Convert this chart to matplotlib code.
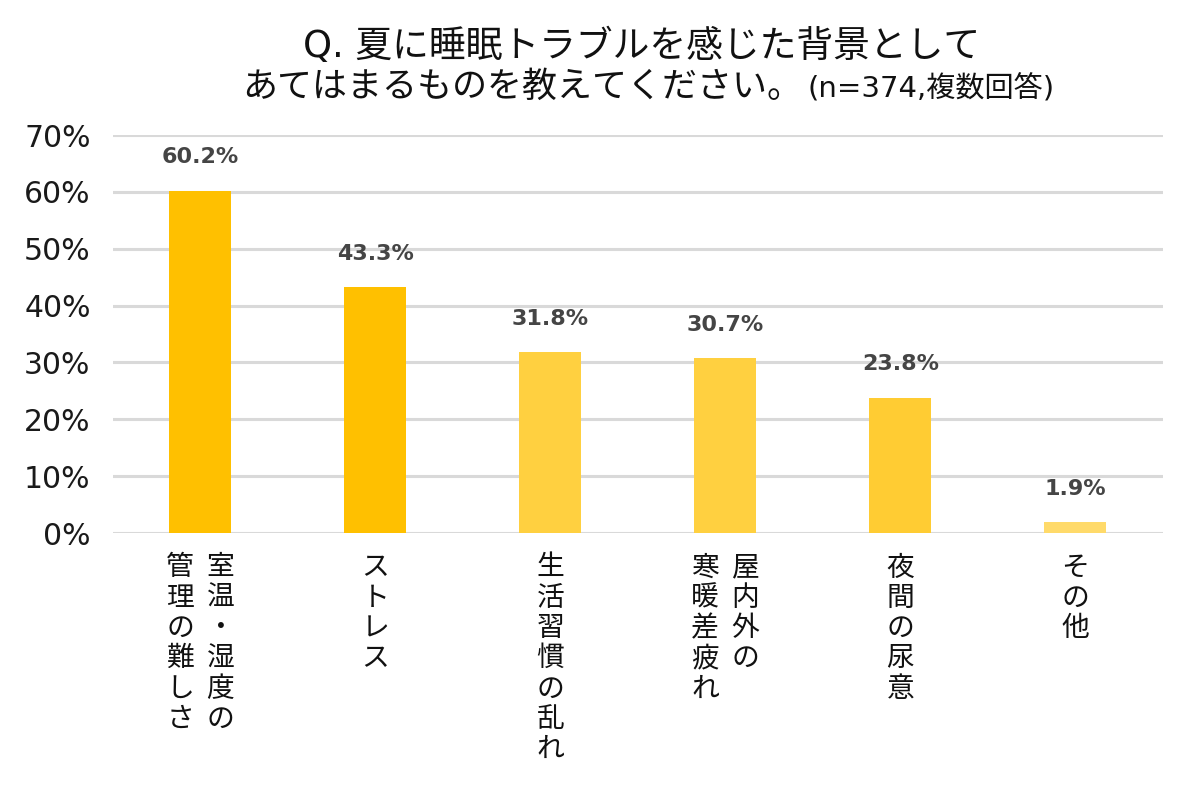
import matplotlib
matplotlib.use("Agg")
import matplotlib.pyplot as plt

plt.rcParams['font.family'] = ['Noto Sans CJK JP', 'DejaVu Sans']

categories = [["室温・湿度の", "管理の難しさ"], ["ストレス"], ["生活習慣の乱れ"],
              ["屋内外の", "寒暖差疲れ"], ["夜間の尿意"], ["その他"]]
values = [60.2, 43.3, 31.8, 30.7, 23.8, 1.9]
value_labels = ["60.2%", "43.3%", "31.8%", "30.7%", "23.8%", "1.9%"]
colors = ["#FFC000", "#FFC000", "#FFD040", "#FFD040", "#FFCC33", "#FFDA6A"]
yticks = [0, 10, 20, 30, 40, 50, 60, 70]
ytick_labels = ["0%", "10%", "20%", "30%", "40%", "50%", "60%", "70%"]

fig = plt.figure(figsize=(12, 7.92), dpi=100)
ax = fig.add_axes([0.094, 0.327, 0.875, 0.5025])

x = list(range(len(values)))
ax.bar(x, values, width=0.355, color=colors, zorder=3)
ax.set_xlim(-0.5, len(values) - 0.5)
ax.set_ylim(0, 70)
ax.set_yticks(yticks)
ax.set_yticklabels(ytick_labels, fontsize=21.5, color="#1a1a1a",
                   family=['DejaVu Sans'])
ax.tick_params(axis='y', length=0, pad=16)
ax.tick_params(axis='x', length=0, labelbottom=False)
for s in ax.spines.values():
    s.set_visible(False)
ax.grid(axis='y', color="#D9D9D9", linewidth=2.2, zorder=0)
ax.set_axisbelow(True)

for i, (v, lab) in enumerate(zip(values, value_labels)):
    ax.annotate(lab, xy=(i, v), xytext=(0, 24), textcoords='offset points',
                ha='center', va='center', fontsize=16, color="#454545",
                fontweight='bold', family=['DejaVu Sans'])

step = 21.8
col_gap = 29.0
for i, cols in enumerate(categories):
    n = len(cols)
    for c, col in enumerate(cols):
        # vertical Japanese: first column on the right
        dx = ((n - 1) / 2 - c) * col_gap
        for k, ch in enumerate(col):
            ax.annotate(ch, xy=(i, 0), xycoords='data',
                        xytext=(dx, -14 - k * step), textcoords='offset points',
                        ha='center', va='top', fontsize=20, color="#111111",
                        annotation_clip=False)

fig.text(642 / 1200, 1 - 46 / 792, "Q. 夏に睡眠トラブルを感じた背景として",
         ha='center', va='center', fontsize=26.5, color="#111111",
         family=['DejaVu Sans', 'Noto Sans CJK JP'])
fig.text(802 / 1200, 1 - 87 / 792, "あてはまるものを教えてください。",
         ha='right', va='center', fontsize=25.2, color="#111111")
fig.text(808 / 1200, 1 - 89 / 792, "(n=374,複数回答)",
         ha='left', va='center', fontsize=21, color="#111111",
         family=['DejaVu Sans', 'Noto Sans CJK JP'])

fig.savefig("out.png", dpi=100, facecolor="white")
